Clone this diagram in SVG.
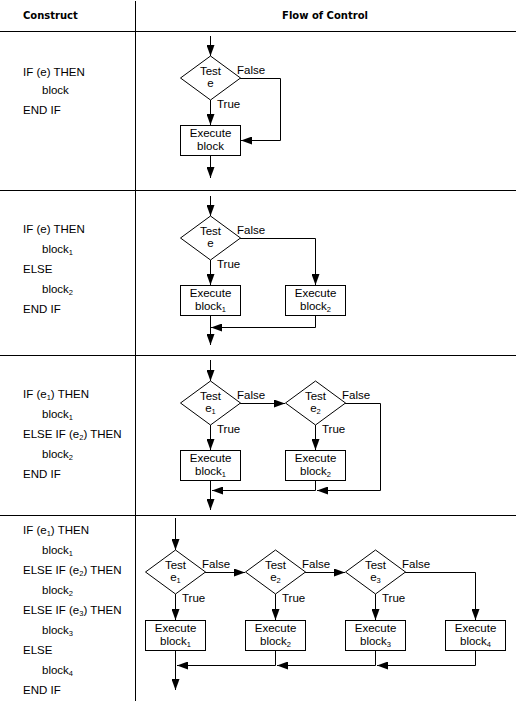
<svg xmlns="http://www.w3.org/2000/svg" width="516" height="701" viewBox="0 0 516 701">
<style>
.t{font-family:"Liberation Sans",Arial,sans-serif;font-size:11.5px;fill:#000}
.m{text-anchor:middle}
.h{font-family:"DejaVu Sans",Verdana,sans-serif;font-size:10px;font-weight:bold;fill:#000}
.s{font-size:7.5px}
.ln{stroke:#000;stroke-width:1;fill:none;shape-rendering:crispEdges}
.a{stroke:#000;stroke-width:1;fill:none;marker-end:url(#ah)}
.box{fill:#fff;stroke:#000;stroke-width:1;shape-rendering:crispEdges}
.dia{fill:#fff;stroke:#000;stroke-width:1}
</style>
<defs>
<marker id="ah" viewBox="0 0 11 8" refX="11" refY="4" markerWidth="11" markerHeight="8" markerUnits="userSpaceOnUse" orient="auto">
<path d="M0,0 L11,4 L0,8 z" fill="#000"/>
</marker>
</defs>
<rect width="516" height="701" fill="#fff"/>
<g id="grid">
<line class="ln" x1="135.5" y1="1" x2="135.5" y2="701"/>
<line class="ln" x1="0" y1="31.5" x2="516" y2="31.5"/>
<line class="ln" x1="0" y1="190.5" x2="516" y2="190.5"/>
<line class="ln" x1="0" y1="355.5" x2="516" y2="355.5"/>
<line class="ln" x1="0" y1="515.5" x2="516" y2="515.5"/>
<text class="h" x="23" y="19">Construct</text>
<text class="h m" x="325" y="19">Flow of Control</text>
</g>
<g id="code">
<text class="t" x="23" y="76">IF (e) THEN</text>
<text class="t" x="42" y="94">block</text>
<text class="t" x="23" y="114">END IF</text>

<text class="t" x="23" y="233">IF (e) THEN</text>
<text class="t" x="42" y="253">block<tspan class="s" dy="2">1</tspan></text>
<text class="t" x="23" y="273">ELSE</text>
<text class="t" x="42" y="293">block<tspan class="s" dy="2">2</tspan></text>
<text class="t" x="23" y="313">END IF</text>

<text class="t" x="23" y="398">IF (e<tspan class="s" dy="2">1</tspan><tspan dy="-2">) THEN</tspan></text>
<text class="t" x="42" y="418">block<tspan class="s" dy="2">1</tspan></text>
<text class="t" x="23" y="438">ELSE IF (e<tspan class="s" dy="2">2</tspan><tspan dy="-2">) THEN</tspan></text>
<text class="t" x="42" y="458">block<tspan class="s" dy="2">2</tspan></text>
<text class="t" x="23" y="478">END IF</text>

<text class="t" x="23" y="534">IF (e<tspan class="s" dy="2">1</tspan><tspan dy="-2">) THEN</tspan></text>
<text class="t" x="42" y="554">block<tspan class="s" dy="2">1</tspan></text>
<text class="t" x="23" y="574">ELSE IF (e<tspan class="s" dy="2">2</tspan><tspan dy="-2">) THEN</tspan></text>
<text class="t" x="42" y="594">block<tspan class="s" dy="2">2</tspan></text>
<text class="t" x="23" y="614">ELSE IF (e<tspan class="s" dy="2">3</tspan><tspan dy="-2">) THEN</tspan></text>
<text class="t" x="42" y="634">block<tspan class="s" dy="2">3</tspan></text>
<text class="t" x="23" y="654">ELSE</text>
<text class="t" x="42" y="674">block<tspan class="s" dy="2">4</tspan></text>
<text class="t" x="23" y="694">END IF</text>
</g>
<g id="connectors">
<path class="a" d="M210.5,36 V56"/>
<path class="a" d="M210.5,100 V125"/>
<path class="a" d="M240,78.5 H280.5 V140.5 H241"/>
<path class="a" d="M210.5,155 V178"/>
<path class="a" d="M210.5,196 V216"/>
<path class="a" d="M210.5,260 V285"/>
<path class="a" d="M240,238.5 H315.5 V285"/>
<path class="a" d="M315.5,315 V327.5 H211"/>
<path class="a" d="M210.5,315 V345"/>
<path class="a" d="M210.5,360 V381"/>
<path class="a" d="M210.5,425 V450"/>
<path class="a" d="M315.5,425 V450"/>
<path class="a" d="M240,403.5 H285"/>
<path class="a" d="M345,403.5 H380.5 V490.5 H317"/>
<path class="a" d="M315.5,480 V490.5 H212"/>
<path class="a" d="M210.5,480 V510"/>
<path class="a" d="M175.5,518 V550"/>
<path class="a" d="M175.5,594 V620"/>
<path class="a" d="M275.5,594 V620"/>
<path class="a" d="M375.5,594 V620"/>
<path class="a" d="M205,572.5 H245"/>
<path class="a" d="M305,572.5 H345"/>
<path class="a" d="M405,572.5 H475.5 V620"/>
<path class="a" d="M475.5,650 V665.5 H377"/>
<path class="a" d="M375.5,650 V665.5 H277"/>
<path class="a" d="M275.5,650 V665.5 H177"/>
<path class="a" d="M175.5,650 V690"/>
</g>
<g id="s1-test">
<polygon class="dia" points="210.5,56 240.5,78 210.5,100 180.5,78"/>
<text class="t m" x="210.5" y="75">Test</text>
<text class="t m" x="210.5" y="87">e</text>
<text class="t" x="237" y="74">False</text>
<text class="t" x="217" y="108">True</text>
</g>
<g id="s1-block">
<rect class="box" x="180.5" y="125.5" width="60" height="30"/>
<text class="t m" x="210.5" y="137">Execute</text>
<text class="t m" x="210.5" y="150">block</text>
</g>
<g id="s2-test">
<polygon class="dia" points="210.5,216 240.5,238 210.5,260 180.5,238"/>
<text class="t m" x="210.5" y="235">Test</text>
<text class="t m" x="210.5" y="247">e</text>
<text class="t" x="237" y="234">False</text>
<text class="t" x="217" y="268">True</text>
</g>
<g id="s2-block1">
<rect class="box" x="180.5" y="285.5" width="60" height="30"/>
<text class="t m" x="210.5" y="297">Execute</text>
<text class="t m" x="210.5" y="310">block<tspan class="s" dy="2">1</tspan></text>
</g>
<g id="s2-block2">
<rect class="box" x="285.5" y="285.5" width="60" height="30"/>
<text class="t m" x="315.5" y="297">Execute</text>
<text class="t m" x="315.5" y="310">block<tspan class="s" dy="2">2</tspan></text>
</g>
<g id="s3-test1">
<polygon class="dia" points="210.5,381 240.5,403 210.5,425 180.5,403"/>
<text class="t m" x="210.5" y="400">Test</text>
<text class="t m" x="210.5" y="412">e<tspan class="s" dy="2">1</tspan></text>
<text class="t" x="237" y="399">False</text>
<text class="t" x="217" y="433">True</text>
</g>
<g id="s3-test2">
<polygon class="dia" points="315.5,381 345.5,403 315.5,425 285.5,403"/>
<text class="t m" x="315.5" y="400">Test</text>
<text class="t m" x="315.5" y="412">e<tspan class="s" dy="2">2</tspan></text>
<text class="t" x="342" y="399">False</text>
<text class="t" x="322" y="433">True</text>
</g>
<g id="s3-block1">
<rect class="box" x="180.5" y="450.5" width="60" height="30"/>
<text class="t m" x="210.5" y="462">Execute</text>
<text class="t m" x="210.5" y="475">block<tspan class="s" dy="2">1</tspan></text>
</g>
<g id="s3-block2">
<rect class="box" x="285.5" y="450.5" width="60" height="30"/>
<text class="t m" x="315.5" y="462">Execute</text>
<text class="t m" x="315.5" y="475">block<tspan class="s" dy="2">2</tspan></text>
</g>
<g id="s4-test1">
<polygon class="dia" points="175.5,550 205.5,572 175.5,594 145.5,572"/>
<text class="t m" x="175.5" y="569">Test</text>
<text class="t m" x="175.5" y="581">e<tspan class="s" dy="2">1</tspan></text>
<text class="t" x="202" y="568">False</text>
<text class="t" x="182" y="602">True</text>
</g>
<g id="s4-test2">
<polygon class="dia" points="275.5,550 305.5,572 275.5,594 245.5,572"/>
<text class="t m" x="275.5" y="569">Test</text>
<text class="t m" x="275.5" y="581">e<tspan class="s" dy="2">2</tspan></text>
<text class="t" x="302" y="568">False</text>
<text class="t" x="282" y="602">True</text>
</g>
<g id="s4-test3">
<polygon class="dia" points="375.5,550 405.5,572 375.5,594 345.5,572"/>
<text class="t m" x="375.5" y="569">Test</text>
<text class="t m" x="375.5" y="581">e<tspan class="s" dy="2">3</tspan></text>
<text class="t" x="402" y="568">False</text>
<text class="t" x="382" y="602">True</text>
</g>
<g id="s4-block1">
<rect class="box" x="145.5" y="620.5" width="60" height="30"/>
<text class="t m" x="175.5" y="632">Execute</text>
<text class="t m" x="175.5" y="645">block<tspan class="s" dy="2">1</tspan></text>
</g>
<g id="s4-block2">
<rect class="box" x="245.5" y="620.5" width="60" height="30"/>
<text class="t m" x="275.5" y="632">Execute</text>
<text class="t m" x="275.5" y="645">block<tspan class="s" dy="2">2</tspan></text>
</g>
<g id="s4-block3">
<rect class="box" x="345.5" y="620.5" width="60" height="30"/>
<text class="t m" x="375.5" y="632">Execute</text>
<text class="t m" x="375.5" y="645">block<tspan class="s" dy="2">3</tspan></text>
</g>
<g id="s4-block4">
<rect class="box" x="445.5" y="620.5" width="60" height="30"/>
<text class="t m" x="475.5" y="632">Execute</text>
<text class="t m" x="475.5" y="645">block<tspan class="s" dy="2">4</tspan></text>
</g>
</svg>
